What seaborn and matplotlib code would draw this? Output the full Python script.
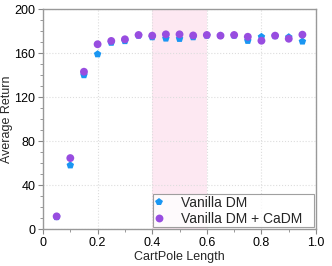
import numpy as np
import pandas as pd
import matplotlib
matplotlib.use('Agg')
import matplotlib.pyplot as plt
from matplotlib.ticker import MultipleLocator
import seaborn as sns

lengths = [0.05, 0.1, 0.15, 0.2, 0.25, 0.3, 0.35, 0.4, 0.45, 0.5,
           0.55, 0.6, 0.65, 0.7, 0.75, 0.8, 0.85, 0.9, 0.95]
vanilla_dm = [11, 58, 140, 159, 169.5, 171, 176, 174.5, 173.3, 173,
              174.5, 176, 175.8, 176, 171.2, 174.8, 175.5, 174.5, 170.6]
vanilla_cadm = [11.5, 64.5, 143, 168, 171, 172.5, 176.4, 175.8, 177, 177,
                176, 176.4, 175.8, 176.4, 174.8, 171.2, 175.8, 173, 176.7]
labels = ['Vanilla DM', 'Vanilla DM + CaDM']

df = pd.concat([
    pd.DataFrame({'x': lengths, 'y': vanilla_dm, 'method': labels[0]}),
    pd.DataFrame({'x': lengths, 'y': vanilla_cadm, 'method': labels[1]}),
])

sns.set_style('white')
plt.rcParams['font.family'] = ['Liberation Sans', 'DejaVu Sans']

fig, ax = plt.subplots(figsize=(3.32, 2.66), dpi=100)
ax.axvspan(0.4, 0.6, color='#fde8f2', zorder=0, lw=0)
sns.scatterplot(data=df, x='x', y='y', hue='method', style='method',
                markers={labels[0]: 'p', labels[1]: 'o'},
                palette={labels[0]: '#1a96f2', labels[1]: '#984de0'},
                s=32, linewidth=0, ax=ax, zorder=3)

ax.set_xlim(0, 1)
ax.set_ylim(0, 200)
ax.xaxis.set_major_locator(MultipleLocator(0.2))
ax.xaxis.set_minor_locator(MultipleLocator(0.1))
ax.yaxis.set_major_locator(MultipleLocator(40))
ax.yaxis.set_minor_locator(MultipleLocator(10))
ax.xaxis.set_major_formatter(plt.FuncFormatter(lambda v, p: '0' if v == 0 else f'{v:.1f}'))
ax.grid(True, which='major', ls=':', color='#dddddd', lw=0.8)
ax.tick_params(axis='both', which='both', direction='out', colors='#888888',
               labelcolor='black', labelsize=9, bottom=True, left=True, pad=2)
ax.tick_params(which='major', length=3.5)
ax.tick_params(which='minor', length=2)
for sp in ax.spines.values():
    sp.set_color('#999999')
    sp.set_linewidth(1)
ax.set_xlabel('CartPole Length', fontsize=9, labelpad=1.5)
ax.set_ylabel('Average Return', fontsize=9, labelpad=1)

leg = ax.legend(loc='lower left', bbox_to_anchor=(0.403, 0.008, 0.59, 0.171),
                mode='expand', borderaxespad=0, fontsize=10, frameon=True,
                fancybox=False, edgecolor='#888888', handletextpad=1.3,
                borderpad=0.12, labelspacing=0.15, handlelength=0.6)
leg.get_frame().set_linewidth(0.8)

fig.subplots_adjust(left=0.1295, right=0.952, top=0.966, bottom=0.139)
fig.savefig('out.png', dpi=100)
